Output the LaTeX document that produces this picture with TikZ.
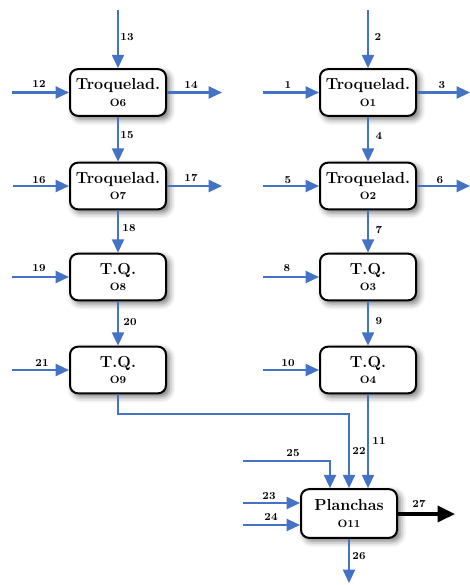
\documentclass[tikz,border=0pt]{standalone}
\usetikzlibrary{arrows.meta,shadows.blur}

\definecolor{flujo}{RGB}{68,114,196}

\tikzset{
  op/.style={draw=black, line width=1.5pt, rounded corners=6pt, fill=white,
    minimum width=72pt, minimum height=35pt, align=center, inner sep=0pt,
    blur shadow={shadow xshift=2.5pt, shadow yshift=-2.5pt,
      shadow blur radius=4.5pt, shadow opacity=55}},
  flow/.style={draw=flujo, line width=1.6pt, -{Triangle[length=10pt,width=9pt]}},
  salida/.style={draw=black, line width=2.6pt, -{Triangle[length=13pt,width=12pt]}},
  lbl/.style={font=\bfseries\footnotesize, inner sep=0.75pt},
}

% two-line text of an operation box
\newcommand{\oper}[2]{{\large\bfseries #1}\\[0.5pt]{\footnotesize\bfseries #2}}

\begin{document}
\begin{tikzpicture}[x=0.75pt,y=0.75pt,yscale=-1,xscale=1]
\useasboundingbox (0,0) rectangle (470,585);

% Operations
\node[op] (O6) at (118,92.5) {\oper{Troquelad.}{O6}};
\node[op] (O7) at (118,186) {\oper{Troquelad.}{O7}};
\node[op] (O8) at (118,277) {\oper{T.Q.}{O8}};
\node[op] (O9) at (118,370) {\oper{T.Q.}{O9}};
\node[op] (O1) at (368,92.5) {\oper{Troquelad.}{O1}};
\node[op] (O2) at (368,186) {\oper{Troquelad.}{O2}};
\node[op] (O3) at (368,277) {\oper{T.Q.}{O3}};
\node[op] (O4) at (368,370) {\oper{T.Q.}{O4}};
\node[op, minimum height=36.5pt] (O11) at (349,513.5) {\oper{Planchas}{O11}};

% Free ends
\coordinate (e13) at (118,10);
\coordinate (e12) at (12,92.5);
\coordinate (s14) at (222,92.5);
\coordinate (e16) at (13,186);
\coordinate (s17) at (222,186);
\coordinate (e19) at (12,277);
\coordinate (e21) at (12,370);
\coordinate (e2) at (368,10);
\coordinate (e1) at (263,92.5);
\coordinate (s3) at (470,92.5);
\coordinate (e5) at (263,186);
\coordinate (s6) at (470,186);
\coordinate (e8) at (263,277);
\coordinate (e10) at (263,370);
\coordinate (k22) at (349,414);
\coordinate (e25) at (243,461);
\coordinate (e23) at (243,503);
\coordinate (e24) at (243,525);
\coordinate (s26) at (349,583);
\coordinate (s27) at (455,514);

% Left line
\draw[flow] (e13) -- (O6);
\draw[flow] (e12) -- (O6);
\draw[flow] (O6) -- (s14);
\draw[flow] (O6) -- (O7);
\draw[flow] (e16) -- (O7);
\draw[flow] (O7) -- (s17);
\draw[flow] (O7) -- (O8);
\draw[flow] (e19) -- (O8);
\draw[flow] (O8) -- (O9);
\draw[flow] (e21) -- (O9);

% Right line
\draw[flow] (e2) -- (O1);
\draw[flow] (e1) -- (O1);
\draw[flow] (O1) -- (s3);
\draw[flow] (O1) -- (O2);
\draw[flow] (e5) -- (O2);
\draw[flow] (O2) -- (s6);
\draw[flow] (O2) -- (O3);
\draw[flow] (e8) -- (O3);
\draw[flow] (O3) -- (O4);
\draw[flow] (e10) -- (O4);

% Into the plate press
\draw[flow] (O9.south) |- (k22) -- (O11.north);
\draw[flow] (O4.south) -- (O4.south |- O11.north);
\draw[flow] (e25) -| ([xshift=-14.25pt]O11.north);
\draw[flow] (e23) -- (e23 -| O11.west);
\draw[flow] (e24) -- (e24 -| O11.west);
\draw[flow] (O11.south) -- (s26);
\draw[salida] (O11.east |- s27) -- (s27);

% Text Node
\node[lbl] (l13) at (127,37) {13};
\node[lbl] (l12) at (39,84) {12};
\node[lbl] (l14) at (191,85) {14};
\node[lbl] (l15) at (127,135) {15};
\node[lbl] (l16) at (39,180) {16};
\node[lbl] (l17) at (191,178) {17};
\node[lbl] (l18) at (129,228) {18};
\node[lbl] (l19) at (39,268) {19};
\node[lbl] (l20) at (130,322) {20};
\node[lbl] (l21) at (42,363) {21};
\node[lbl] (l2) at (378,37) {2};
\node[lbl] (l1) at (288,85) {1};
\node[lbl] (l3) at (442,85) {3};
\node[lbl] (l4) at (379,136) {4};
\node[lbl] (l5) at (288,180) {5};
\node[lbl] (l6) at (440,180) {6};
\node[lbl] (l7) at (379,230) {7};
\node[lbl] (l8) at (287,268) {8};
\node[lbl] (l9) at (379,321) {9};
\node[lbl] (l10) at (288,363) {10};
\node[lbl] (l11) at (379,441) {11};
\node[lbl] (l22) at (359,451) {22};
\node[lbl] (l25) at (293,453) {25};
\node[lbl] (l23) at (269,496) {23};
\node[lbl] (l24) at (271,517) {24};
\node[lbl] (l26) at (359,556) {26};
\node[lbl] (l27) at (419,504) {27};

\end{tikzpicture}
\end{document}
